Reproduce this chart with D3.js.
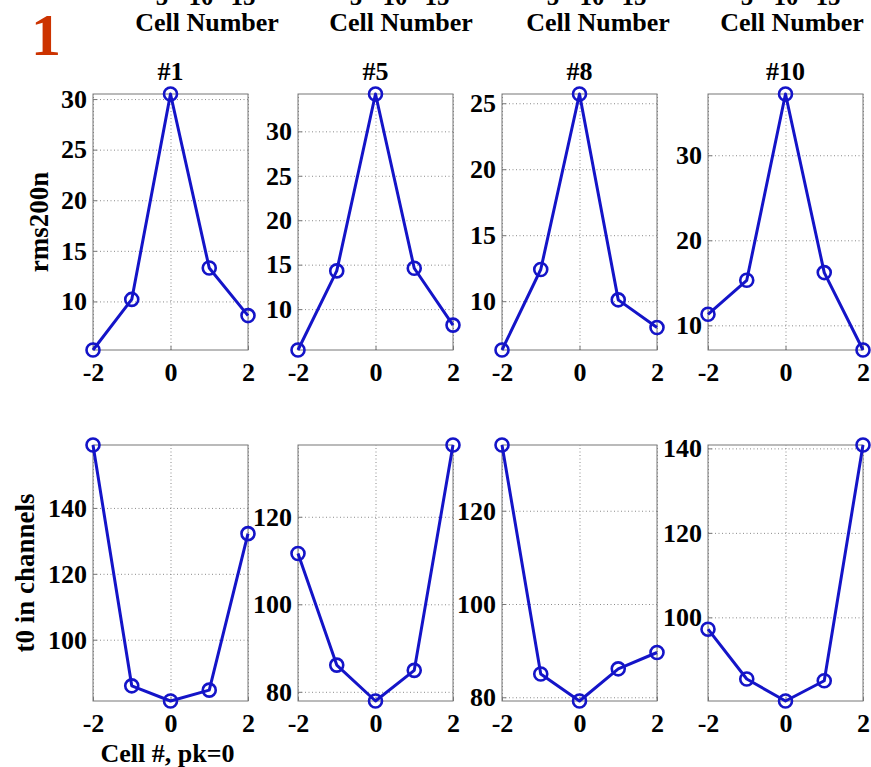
<!DOCTYPE html>
<html>
<head>
<meta charset="utf-8">
<script src="https://cdn.jsdelivr.net/npm/d3@7"></script>
<style>
body { margin: 0; background: #fff; }
svg { font-family: 'Liberation Serif', 'Times New Roman', serif; font-weight: bold; }
</style>
</head>
<body>
<svg id="fig"></svg>
<script>
// data
const cells = [-2, -1, 0, 1, 2];
const xTicks = [-2, 0, 2];
const panelTitles = ['#1', '#5', '#8', '#10'];
const rms200n = [
    [5.2, 10.2, 30.5, 13.3, 8.6],
    [5.4, 14.3, 34.2, 14.6, 8.2],
    [6.3, 12.4, 25.7, 10.1, 8.0],
    [11.3, 15.3, 37.2, 16.2, 7.1]
];
const t0Channels = [
    [159.1, 86.0, 81.4, 84.7, 132.2],
    [111.6, 86.1, 77.9, 84.9, 136.4],
    [134.1, 85.0, 79.2, 86.1, 89.6],
    [97.2, 85.4, 80.2, 85.0, 140.8]
];
const rmsTicks = [[10, 15, 20, 25, 30], [10, 15, 20, 25, 30], [10, 15, 20, 25], [10, 20, 30]];
const t0Ticks = [[100, 120, 140], [80, 100, 120], [80, 100, 120], [100, 120, 140]];
const topTickLabels = ['5', '10', '15'];
const topAxisLabel = 'Cell Number';

// layout
const W = 871, H = 767;
const panelLeft = [93, 298, 502, 708];
const panelWidth = 155;
const rowTop = [94, 445];
const panelHeight = 256;
const blue = '#1414c8';

class CellPanel {
    constructor(config, data) {
        this.config = {
            parent: config.parent,
            left: config.left,
            top: config.top,
            width: config.width || 155,
            height: config.height || 256,
            yticks: config.yticks,
            title: config.title || '',
            ylabel: config.ylabel || '',
            ylabelX: config.ylabelX || 40,
            xlabel: config.xlabel || '',
            xpad: config.xpad || 13
        };
        this.data = data;
        this.init();
    }

    init() {
        let self = this;
        const c = self.config;

        self.chart = c.parent.append('g')
            .attr('transform', `translate(${c.left}, ${c.top})`);

        self.xscale = d3.scaleLinear()
            .domain([-2, 2])
            .range([0, c.width]);

        self.yscale = d3.scaleLinear()
            .range([c.height, 0]);

        self.grid_group = self.chart.append('g');
        self.chart.append('rect')
            .attr('width', c.width)
            .attr('height', c.height)
            .attr('fill', 'none')
            .attr('stroke', '#777')
            .attr('stroke-width', 1);
        self.xaxis_group = self.chart.append('g')
            .attr('transform', `translate(0, ${c.height})`);
        self.yaxis_group = self.chart.append('g');
        self.mark_group = self.chart.append('g');

        if (c.title) {
            self.chart.append('text')
                .attr('x', c.width / 2)
                .attr('y', -14)
                .attr('text-anchor', 'middle')
                .style('font-size', '26px')
                .text(c.title);
        }
        if (c.ylabel) {
            self.chart.append('text')
                .attr('transform', `translate(${c.ylabelX - c.left}, ${c.height / 2}) rotate(-90)`)
                .attr('text-anchor', 'middle')
                .style('font-size', '27px')
                .text(c.ylabel);
        }
        if (c.xlabel) {
            self.chart.append('text')
                .attr('x', c.width / 2 - 3)
                .attr('y', c.height + 61)
                .attr('text-anchor', 'middle')
                .style('font-size', '26px')
                .text(c.xlabel);
        }
    }

    update() {
        let self = this;
        self.yscale.domain(d3.extent(self.data, d => d.value));
        self.line = d3.line()
            .x(d => self.xscale(d.cell))
            .y(d => self.yscale(d.value));
        self.render();
    }

    render() {
        let self = this;
        const c = self.config;

        // dotted grid
        const gy = d3.axisLeft(self.yscale).tickValues(c.yticks).tickSize(-c.width).tickFormat('');
        const gx = d3.axisBottom(self.xscale).tickValues(xTicks).tickSize(-c.height).tickFormat('');
        self.grid_group.append('g').call(gy);
        self.grid_group.append('g').attr('transform', `translate(0, ${c.height})`).call(gx);
        self.grid_group.selectAll('.domain').remove();
        self.grid_group.selectAll('line')
            .attr('stroke', '#8a8a8a')
            .attr('stroke-width', 1)
            .attr('stroke-dasharray', '1,2.5');

        // inward ticks + labels
        self.xaxis_group.call(d3.axisBottom(self.xscale)
            .tickValues(xTicks).tickSize(-4).tickPadding(c.xpad)
            .tickFormat(d => String(d)));
        self.yaxis_group.call(d3.axisLeft(self.yscale)
            .tickValues(c.yticks).tickSize(-4).tickPadding(6)
            .tickFormat(d => String(d)));
        self.chart.selectAll('.domain').remove();
        [self.xaxis_group, self.yaxis_group].forEach(g => {
            g.selectAll('line').attr('stroke', '#777');
            g.selectAll('text')
                .attr('fill', '#000')
                .style('font-family', "'Liberation Serif', serif")
                .style('font-weight', 'bold')
                .style('font-size', '26px');
        });

        self.mark_group.append('path')
            .datum(self.data)
            .attr('d', self.line)
            .attr('fill', 'none')
            .attr('stroke', blue)
            .attr('stroke-width', 3)
            .attr('stroke-linejoin', 'round');

        self.mark_group.selectAll('circle')
            .data(self.data)
            .join('circle')
            .attr('cx', d => self.xscale(d.cell))
            .attr('cy', d => self.yscale(d.value))
            .attr('r', 6.5)
            .attr('fill', 'none')
            .attr('stroke', blue)
            .attr('stroke-width', 2.6);
    }
}

const svg = d3.select('#fig')
    .attr('width', W)
    .attr('height', H);

svg.append('rect').attr('width', W).attr('height', H).attr('fill', '#fff');

// red panel number
svg.append('text')
    .attr('x', 46)
    .attr('y', 55)
    .attr('text-anchor', 'middle')
    .attr('fill', '#cc3300')
    .style('font-size', '60px')
    .text('1');

// axis labels of the figure above, cut off at the top edge
const topCenters = [207, 401, 598, 792];
const topOffsets = [-45, -6, 36];
topCenters.forEach(cx => {
    svg.append('text')
        .attr('x', cx)
        .attr('y', 31)
        .attr('text-anchor', 'middle')
        .style('font-size', '26px')
        .text(topAxisLabel);
    topTickLabels.forEach((t, i) => {
        svg.append('text')
            .attr('x', cx + topOffsets[i])
            .attr('y', 5)
            .attr('text-anchor', 'middle')
            .style('font-size', '25px')
            .text(t);
    });
});

panelTitles.forEach((title, i) => {
    const top = new CellPanel({
        parent: svg,
        left: panelLeft[i],
        top: rowTop[0],
        width: panelWidth,
        height: panelHeight,
        yticks: rmsTicks[i],
        title: title,
        ylabel: i === 0 ? 'rms200n' : '',
        ylabelX: 48,
        xpad: 13
    }, cells.map((c, j) => ({ cell: c, value: rms200n[i][j] })));
    top.update();

    const bottom = new CellPanel({
        parent: svg,
        left: panelLeft[i],
        top: rowTop[1],
        width: panelWidth,
        height: panelHeight,
        yticks: t0Ticks[i],
        ylabel: i === 0 ? 't0 in channels' : '',
        ylabelX: 34,
        xlabel: i === 0 ? 'Cell #, pk=0' : '',
        xpad: 13
    }, cells.map((c, j) => ({ cell: c, value: t0Channels[i][j] })));
    bottom.update();
});
</script>
</body>
</html>
